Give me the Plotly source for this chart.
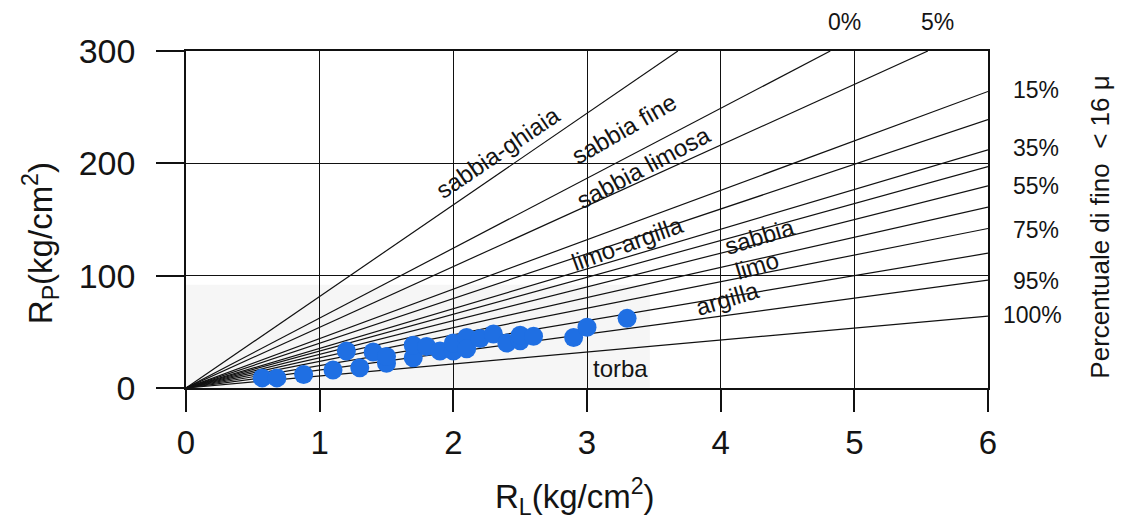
import plotly.graph_objects as go

# ---- data ----
# measured points: RL (kg/cm2) vs RP (kg/cm2)
rl_values = [0.57, 0.68, 0.88, 1.10, 1.20, 1.30, 1.40, 1.50, 1.50, 1.70, 1.70, 1.80,
             1.90, 2.00, 2.00, 2.10, 2.10, 2.20, 2.30, 2.40, 2.50, 2.50, 2.60, 2.90, 3.00, 3.30]
rp_values = [9, 9, 12, 16, 33, 18, 32, 22, 28, 27, 38, 37,
             33, 33, 40, 45, 35, 44, 48, 40, 42, 47, 46, 45, 54, 62]

# classification lines from the origin: end points (x, y)
line_end_x = [3.68, 4.82, 5.55, 6, 6, 6, 6, 6, 6, 6, 6, 6, 6]
line_end_y = [300, 300, 300, 264, 239, 212, 197, 180, 161, 142, 120, 96, 64]

# zone labels
zone_labels = ["sabbia-ghiaia", "sabbia fine", "sabbia limosa", "limo-argilla",
               "sabbia", "limo", "argilla", "torba"]
zone_x = [2.33, 3.28, 3.42, 3.30, 4.29, 4.27, 4.05, 3.25]
zone_y = [210, 231, 196, 129, 135, 109, 80, 17]
zone_angle = [-34, -30, -28, -20, -17, -17, -17, 0]

# fines percentage labels (in axis units, some outside the plotted range)
pct_labels = ["0%", "5%", "15%", "35%", "55%", "75%", "95%", "100%"]
pct_x = [4.93, 5.62, 6.36, 6.36, 6.36, 6.36, 6.36, 6.33]
pct_y = [326, 326, 265, 214, 180, 141, 95, 65]

x_ticks = [0, 1, 2, 3, 4, 5, 6]
y_ticks = [0, 100, 200, 300]
X_MAX, Y_MAX = 6, 300

FONT = "Liberation Sans, Arial, Helvetica, sans-serif"
INK = "#141414"

fig = go.Figure()

# light pasted-area background
fig.add_shape(type="rect", xref="x", yref="y", x0=0, x1=3.47, y0=0, y1=92,
              fillcolor="#f6f6f6", line_width=0, layer="below")

for ex, ey in zip(line_end_x, line_end_y):
    fig.add_trace(go.Scatter(x=[0, ex], y=[0, ey], mode="lines",
                             line=dict(color="#111111", width=1.2),
                             hoverinfo="skip", showlegend=False))

fig.add_trace(go.Scatter(x=rl_values, y=rp_values, mode="markers",
                         marker=dict(color="#1f6fe3", size=19, line=dict(width=0)),
                         showlegend=False))

for t, x, y, a in zip(zone_labels, zone_x, zone_y, zone_angle):
    fig.add_annotation(x=x, y=y, xref="x", yref="y", text=t, textangle=a,
                       showarrow=False, font=dict(family=FONT, size=24, color=INK),
                       xanchor="center", yanchor="middle")

for t, x, y in zip(pct_labels, pct_x, pct_y):
    fig.add_annotation(x=x / X_MAX, y=y / Y_MAX, xref="paper", yref="paper", text=t,
                       showarrow=False, font=dict(family=FONT, size=23, color=INK),
                       xanchor="center", yanchor="middle")

# right-side title
fig.add_annotation(x=6.84 / X_MAX, y=143 / Y_MAX, xref="paper", yref="paper",
                   text="Percentuale di fino  < 16 μ",
                   textangle=-90, showarrow=False,
                   font=dict(family=FONT, size=26, color=INK),
                   xanchor="center", yanchor="middle")

# axis titles
fig.add_annotation(x=0.485, y=-0.323, xref="paper", yref="paper",
                   text="R<sub>L</sub>(kg/cm<sup>2</sup>)", showarrow=False,
                   font=dict(family=FONT, size=33, color=INK),
                   xanchor="center", yanchor="middle")
fig.add_annotation(x=-0.182, y=0.43, xref="paper", yref="paper",
                   text="R<sub>P</sub>(kg/cm<sup>2</sup>)", showarrow=False, textangle=-90,
                   font=dict(family=FONT, size=33, color=INK),
                   xanchor="center", yanchor="middle")

fig.update_xaxes(range=[0, X_MAX], tickvals=x_ticks, ticktext=[str(v) for v in x_ticks],
                 showgrid=True, gridcolor="#111111", gridwidth=1.3,
                 showline=True, linecolor="#111111", linewidth=1.5, mirror=True,
                 ticks="outside", ticklen=22, tickwidth=1.5, tickcolor="#111111",
                 ticklabelstandoff=3,
                 tickfont=dict(family=FONT, size=33, color=INK), zeroline=False)
fig.update_yaxes(range=[0, Y_MAX], tickvals=y_ticks, ticktext=[str(v) for v in y_ticks],
                 showgrid=True, gridcolor="#111111", gridwidth=1.3,
                 showline=True, linecolor="#111111", linewidth=1.5, mirror=True,
                 ticks="outside", ticklen=28, tickwidth=1.5, tickcolor="#111111",
                 ticklabelstandoff=14,
                 tickfont=dict(family=FONT, size=34, color=INK), zeroline=False)

fig.update_layout(width=1132, height=526,
                  margin=dict(l=186, r=144, t=51, b=138, autoexpand=False),
                  paper_bgcolor="white", plot_bgcolor="white",
                  showlegend=False)

fig.write_html("out.html")
